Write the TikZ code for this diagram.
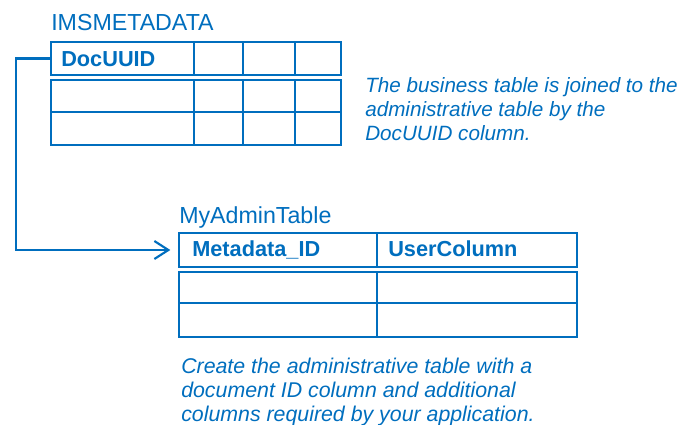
\documentclass[tikz,border=0pt]{standalone}
\usepackage{fontspec}
\setmainfont{Liberation Sans}
\usetikzlibrary{arrows.meta}
\definecolor{tblblue}{RGB}{0,110,190}
\tikzset{>=stealth,
  cell/.style={draw=tblblue, line width=1.9pt, inner sep=0pt, outer sep=0pt, anchor=north west},
  colname/.style={text=tblblue, inner sep=0pt, anchor=base west, font=\fontsize{16.3}{18}\selectfont\bfseries},
  tblname/.style={text=tblblue, inner sep=0pt, anchor=base west, font=\fontsize{17.4}{20}\selectfont},
  note/.style={text=tblblue, inner sep=0pt, anchor=north west, align=left, font=\fontsize{15.5}{18}\selectfont\itshape},
  link/.style={draw=tblblue, line width=1.6pt, -{Straight Barb[length=10.5pt, width=13.5pt]}}}

\begin{document}
\begin{tikzpicture}[x=0.75pt, y=-0.75pt]
    \useasboundingbox (0,0) rectangle (686,425);
    % IMSMETADATA
    \node[tblname] (imsname) at (51,30) {IMSMETADATA};
    \foreach \n/\xa/\xb in {1/51/194, 2/194/243, 3/243/295, 4/295/341}{
        \node[cell, minimum width={(\xb-\xa)*0.75pt}, minimum height=24.75pt] (ims\n) at (\xa,42) {};
        \draw[cell] (\xa,80) rectangle (\xb,112) (\xa,112) rectangle (\xb,145);
    }
    \node[colname] (docuuid) at (61,66) {DocUUID};
    % MyAdminTable
    \node[tblname] (admname) at (179,223) {MyAdminTable};
    \foreach \n/\xa/\xb in {1/179/377, 2/377/577}{
        \node[cell, minimum width={(\xb-\xa)*0.75pt}, minimum height=25.5pt] (adm\n) at (\xa,233) {};
        \draw[cell] (\xa,272) rectangle (\xb,303) (\xa,303) rectangle (\xb,337);
    }
    \node[colname] (metaid) at (192,256) {Metadata\_ID};
    \node[colname] (usercol) at (388,256) {UserColumn};
    % join
    \draw[link, shorten >=6.5pt] (ims1.west) -- ++(-35,0) |- (adm1.west);
    % notes
    \node[note] (joinnote) at (365,77) {The business table is joined to the\\administrative table by the\\DocUUID column.};
    \node[note, font=\fontsize{16}{18}\selectfont\itshape] (admnote) at (181,358) {Create the administrative table with a\\document ID column and additional\\columns required by your application.};
\end{tikzpicture}
\end{document}
